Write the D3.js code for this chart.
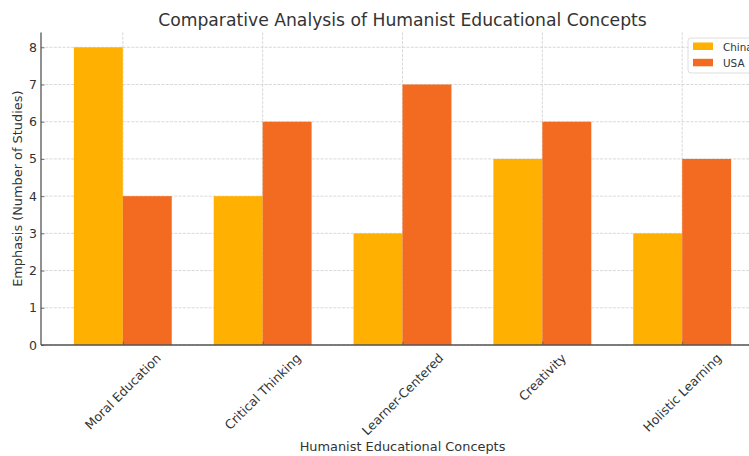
<!DOCTYPE html>
<html>
<head>
<meta charset="utf-8">
<script src="https://cdn.jsdelivr.net/npm/d3@7"></script>
<style>
  html, body { margin: 0; padding: 0; background: #fff; }
  svg { display: block; font-family: "DejaVu Sans", sans-serif; }
</style>
</head>
<body>
<svg id="chart" width="749" height="456"></svg>
<script>
// Concepts compared and number of studies emphasising each one
const categories = ["Moral Education", "Critical Thinking", "Learner-Centered", "Creativity", "Holistic Learning"];
const seriesNames = ["China", "USA"];
const chinaValues = [8, 4, 3, 5, 3];
const usaValues = [4, 6, 7, 6, 5];
const yTicks = [0, 1, 2, 3, 4, 5, 6, 7, 8];

const colors = { China: "#FFB000", USA: "#F26B21" };
const textColor = "#333333";
const spineColor = "#555555";

const svg = d3.select("#chart");

// Plot area (the right part of the frame runs past the page edge)
const plotL = 41, plotR = 764, plotT = 32.4, plotB = 345;
const barW = 0.35;

// Index-based x scale with matplotlib-like margins
const x = d3.scaleLinear().domain([-0.585, 4.585]).range([plotL, plotR]);
const y = d3.scaleLinear().domain([0, 8.4]).range([plotB, plotT]);

const g = svg.append("g");

// Grid lines (dashed, behind bars)
g.append("g").selectAll("line").data(yTicks).join("line")
  .attr("x1", plotL).attr("x2", plotR)
  .attr("y1", d => y(d)).attr("y2", d => y(d))
  .attr("stroke", "#cfcfcf").attr("stroke-width", 0.8)
  .attr("stroke-dasharray", "3,1.3");
g.append("g").selectAll("line").data(categories.map((c, i) => i)).join("line")
  .attr("x1", d => x(d)).attr("x2", d => x(d))
  .attr("y1", plotT).attr("y2", plotB)
  .attr("stroke", "#cfcfcf").attr("stroke-width", 0.8)
  .attr("stroke-dasharray", "3,1.3");

// Bars
const rows = categories.map((c, i) => ({ i, China: chinaValues[i], USA: usaValues[i] }));
seriesNames.forEach((s, k) => {
  g.append("g").selectAll("rect").data(rows).join("rect")
    .attr("x", d => x(d.i + (k === 0 ? -barW : 0)))
    .attr("width", x(barW) - x(0))
    .attr("y", d => y(d[s]))
    .attr("height", d => y(0) - y(d[s]))
    .attr("fill", colors[s]);
});

// Axes
const yAxis = d3.axisLeft(y).tickValues(yTicks).tickSize(-3.5).tickPadding(4).tickFormat(d3.format("d"));
const yg = g.append("g").attr("transform", `translate(${plotL},0)`).call(yAxis);
yg.select(".domain").remove();
yg.selectAll(".tick line").attr("stroke", spineColor).attr("stroke-width", 0.8);
yg.selectAll(".tick text").attr("fill", textColor).style("font-size", "12.5px")
  .style("font-family", "DejaVu Sans");

const xAxis = d3.axisBottom(x).tickValues(categories.map((c, i) => i)).tickSize(-3.5).tickFormat("");
const xg = g.append("g").attr("transform", `translate(0,${plotB})`).call(xAxis);
xg.select(".domain").remove();
xg.selectAll(".tick line").attr("stroke", spineColor).attr("stroke-width", 0.8);

// Rotated category labels: bbox centred on the tick, top just below the axis
const labelTop = plotB + 6;
categories.forEach((c, i) => {
  const t = g.append("text").text(c)
    .attr("fill", textColor).style("font-size", "12.5px")
    .attr("text-anchor", "middle").attr("dominant-baseline", "central");
  const w = t.node().getComputedTextLength();
  const h = 13.5;
  const half = (w + h) / (2 * Math.SQRT2);
  t.attr("transform", `translate(${x(i)},${labelTop + half}) rotate(-45)`);
});

// Spines
g.append("line").attr("x1", plotL).attr("x2", plotL).attr("y1", plotT).attr("y2", plotB)
  .attr("stroke", spineColor).attr("stroke-width", 1.3);
g.append("line").attr("x1", plotL).attr("x2", plotR).attr("y1", plotB).attr("y2", plotB)
  .attr("stroke", spineColor).attr("stroke-width", 1.3);

// Title and axis labels
svg.append("text").text("Comparative Analysis of Humanist Educational Concepts")
  .attr("x", (plotL + plotR) / 2).attr("y", 26).attr("text-anchor", "middle")
  .attr("fill", textColor).style("font-size", "17.2px");
svg.append("text").text("Humanist Educational Concepts")
  .attr("x", (plotL + plotR) / 2).attr("y", 451).attr("text-anchor", "middle")
  .attr("fill", textColor).style("font-size", "12.9px");
svg.append("text").text("Emphasis (Number of Studies)")
  .attr("transform", `translate(22,${(plotT + plotB) / 2}) rotate(-90)`)
  .attr("text-anchor", "middle")
  .attr("fill", textColor).style("font-size", "12.9px");

// Legend (upper right)
const lg = svg.append("g").attr("transform", "translate(688,38)");
lg.append("rect").attr("x", 0).attr("y", 0).attr("width", 71).attr("height", 35)
  .attr("rx", 3).attr("fill", "#fff").attr("fill-opacity", 0.8)
  .attr("stroke", "#d6d6d6").attr("stroke-width", 0.8);
seriesNames.forEach((s, k) => {
  const yy = 9 + k * 16.3;
  lg.append("rect").attr("x", 5).attr("y", yy - 4.5).attr("width", 20).attr("height", 7.5)
    .attr("fill", colors[s]);
  lg.append("text").text(s).attr("x", 35).attr("y", yy + 3.5)
    .attr("fill", textColor).style("font-size", "10.4px");
});
</script>
</body>
</html>
